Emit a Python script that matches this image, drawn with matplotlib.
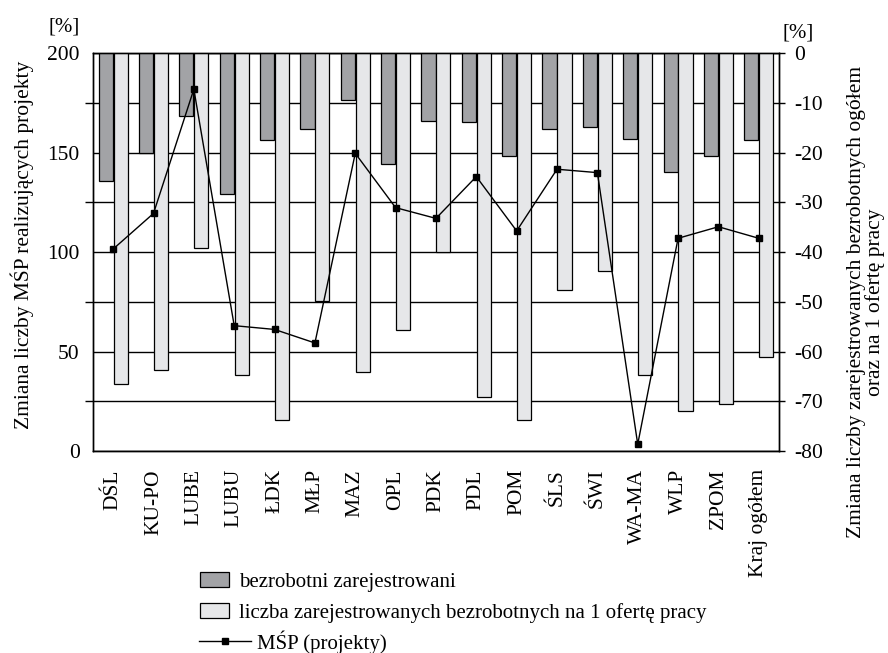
import matplotlib
matplotlib.use("Agg")
import matplotlib.pyplot as plt
import numpy as np
from matplotlib.patches import Patch
from matplotlib.lines import Line2D

plt.rcParams['font.family'] = ['Liberation Serif', 'DejaVu Serif']
plt.rcParams['axes.unicode_minus'] = False

regiony = ['DŚL', 'KU-PO', 'LUBE', 'LUBU', 'ŁDK', 'MŁP', 'MAZ', 'OPL', 'PDK',
           'PDL', 'POM', 'ŚLS', 'ŚWI', 'WA-MA', 'WLP', 'ZPOM', 'Kraj ogółem']
# zmiana liczby bezrobotnych zarejestrowanych [%] (prawa os)
bezrobotni = [-25.8, -20.0, -12.7, -28.3, -17.5, -15.2, -9.5, -22.4, -13.7,
              -13.8, -20.6, -15.2, -14.8, -17.3, -24.0, -20.6, -17.4]
# zmiana liczby bezrobotnych na 1 oferte pracy [%] (prawa os)
na_oferte = [-66.5, -63.7, -39.1, -64.7, -73.7, -49.8, -64.2, -55.7, -40.0,
             -69.1, -73.8, -47.6, -43.8, -64.7, -72.0, -70.6, -61.1]
# zmiana liczby MSP realizujacych projekty [%] (lewa os)
msp = [101.5, 119.4, 181.8, 63.0, 61.1, 54.3, 149.6, 122.3, 116.9,
       137.9, 110.6, 141.6, 139.9, 3.4, 106.9, 112.7, 106.9]

ciemny = '#a2a3a6'
jasny = '#e6e7e9'
fs = 15.5

fig = plt.figure(figsize=(8.88, 6.53), dpi=100)
ax = fig.add_axes([0.1047, 0.3093, 0.7725, 0.6095])
ax2 = ax.twinx()

x = np.arange(len(regiony))
w = 0.35
ax2.bar(x - w / 2 - 0.01, bezrobotni, w, color=ciemny, edgecolor='black', linewidth=0.9, zorder=3)
ax2.bar(x + w / 2 + 0.01, na_oferte, w, color=jasny, edgecolor='black', linewidth=0.9, zorder=3)
ax2.set_ylim(-80, 0)
ax2.set_yticks(np.arange(-80, 1, 10))
ax2.yaxis.grid(True, color='black', linewidth=1.0)
ax2.set_axisbelow(True)
ax2.tick_params(axis='y', direction='out', length=4, width=1, pad=7, labelsize=fs)

ax.plot(x, msp, color='black', linewidth=1.0, marker='s', markersize=5, zorder=5)
ax.set_zorder(ax2.get_zorder() + 1)
ax.patch.set_visible(False)
ax.set_ylim(0, 200)
ax.set_xlim(-0.5, len(regiony) - 0.5)
ax.set_yticks(np.arange(0, 201, 50))
ax.set_yticks(np.arange(25, 200, 50), minor=True)
ax.tick_params(axis='y', which='major', length=0, pad=9.5, labelsize=fs)
ax.tick_params(axis='y', which='minor', direction='out', length=6, width=1)
ax.set_xticks(x)
ax.set_xticklabels(regiony, rotation=90, fontsize=fs)
ax.tick_params(axis='x', length=0, pad=13)

for a in (ax, ax2):
    for s in a.spines.values():
        s.set_color('black')
        s.set_linewidth(1.0)

fig.text(22 / 888, 1 - 245 / 653, 'Zmiana liczby MŚP realizujących projekty',
         fontsize=fs, rotation=90, ha='center', va='center')
fig.text(866 / 888, 1 - 302 / 653,
         'Zmiana liczby zarejestrowanych bezrobotnych ogółem\noraz na 1 ofertę pracy',
         fontsize=fs, rotation=90, ha='center', va='center', multialignment='center',
         linespacing=0.95)

fig.text(64 / 888, 1 - 27 / 653, '[%]', fontsize=15, ha='center', va='center')
fig.text(798 / 888, 1 - 33 / 653, '[%]', fontsize=15, ha='center', va='center')

h1 = [Patch(facecolor=ciemny, edgecolor='black', linewidth=0.9),
      Patch(facecolor=jasny, edgecolor='black', linewidth=0.9)]
fig.legend(h1, ['bezrobotni zarejestrowani',
                'liczba zarejestrowanych bezrobotnych na 1 ofertę pracy'],
           loc='upper left', bbox_to_anchor=(200 / 888, 1 - 572 / 653),
           frameon=False, fontsize=15, handlelength=1.4, handleheight=0.72,
           handletextpad=0.45, labelspacing=0.55, borderpad=0, borderaxespad=0)
h2 = [Line2D([0], [0], color='black', linewidth=1.0, marker='s', markersize=4.5)]
fig.legend(h2, ['MŚP (projekty)'], loc='upper left',
           bbox_to_anchor=(199 / 888, 1 - 630 / 653), frameon=False, fontsize=15,
           handlelength=2.5, handletextpad=0.3, borderpad=0, borderaxespad=0)

fig.savefig('out.png', dpi=100)
